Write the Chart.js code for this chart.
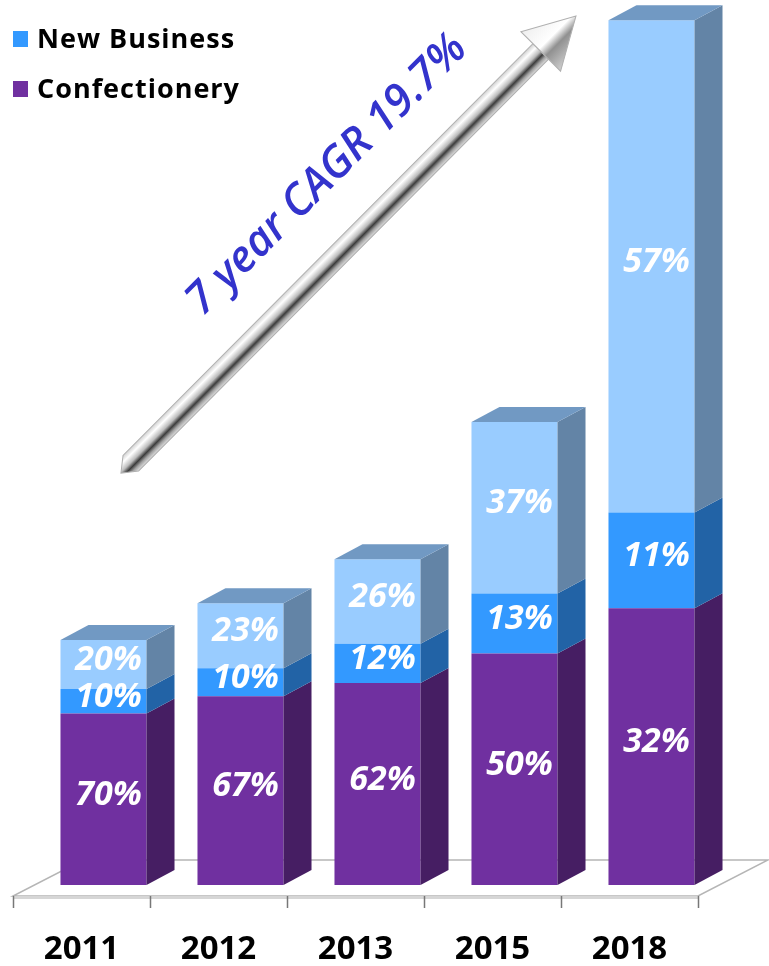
<!DOCTYPE html>
<html lang="en">
<head>
<meta charset="UTF-8">
<title>Sales growth 2011-2018</title>
<script src="https://cdn.jsdelivr.net/npm/chart.js@4.4.1/dist/chart.umd.min.js"></script>
<style>
    body{ margin:0; background:#fff; }
    #wrap{ width:769px; height:966px; }
</style>
</head>
<body>
<div id="wrap"><canvas id="growth" width="769" height="966"></canvas></div>
<script>
// chart data (index, 2011 total = 100)
var years = ['2011', '2012', '2013', '2015', '2018'];
var confectionery = [70, 77, 82.5, 94.5, 113];
var newBusiness = [10, 11.5, 16, 24.5, 39];
var otherBusiness = [20, 26.5, 34.5, 70, 201];
var confLabels = ['70%', '67%', '62%', '50%', '32%'];
var newLabels = ['10%', '10%', '12%', '13%', '11%'];
var otherLabels = ['20%', '23%', '26%', '37%', '57%'];
var legendNames = ['Other Business', 'New Business', 'Confectionery'];
var cagrText = '7 year CAGR 19.7%';

var fronts = ['#7030A0', '#3399FF', '#99CCFF'];
var sides = ['#461E63', '#2263A6', '#6384A6'];
var topFace = '#7199C3';
var DX = 28, DY = 15;

// 3d sides, top, floor
const box3d = {
    id: 'box3d',
    beforeDatasetsDraw(chart){
        const ctx = chart.ctx, a = chart.chartArea;
        const off = -22;
        const fl = a.left + off, fr = a.right + off, fy = a.bottom + 11;
        ctx.save();
        ctx.beginPath();
        ctx.moveTo(fl, fy);
        ctx.lineTo(fr, fy);
        ctx.lineTo(fr + 70, fy - 36);
        ctx.lineTo(fl + 70, fy - 36);
        ctx.closePath();
        ctx.fillStyle = '#ffffff';
        ctx.fill();
        ctx.strokeStyle = '#b5b5b5';
        ctx.lineWidth = 1.5;
        ctx.stroke();
        ctx.fillStyle = '#d6d6d6';
        ctx.fillRect(fl, fy, fr - fl, 3);
        ctx.strokeStyle = '#777';
        ctx.lineWidth = 1.5;
        for(let i = 0; i <= years.length; i++){
            let tx = Math.round(fl + (fr - fl) * i / years.length) + 0.5;
            ctx.beginPath();
            ctx.moveTo(tx, fy);
            ctx.lineTo(tx, fy + 12);
            ctx.stroke();
        }
        ctx.restore();
    },
    afterDatasetsDraw(chart){
        const ctx = chart.ctx;
        ctx.save();
        chart.data.datasets.forEach((ds, di) => {
            const meta = chart.getDatasetMeta(di);
            meta.data.forEach((bar) => {
                const p = bar.getProps(['x', 'y', 'base', 'width'], true);
                const r = p.x + p.width / 2, l = p.x - p.width / 2;
                ctx.fillStyle = sides[di];
                ctx.beginPath();
                ctx.moveTo(r, p.y);
                ctx.lineTo(r + DX, p.y - DY);
                ctx.lineTo(r + DX, p.base - DY);
                ctx.lineTo(r, p.base);
                ctx.closePath();
                ctx.fill();
                if(di == chart.data.datasets.length - 1){
                    ctx.fillStyle = topFace;
                    ctx.beginPath();
                    ctx.moveTo(l, p.y);
                    ctx.lineTo(l + DX, p.y - DY);
                    ctx.lineTo(r + DX, p.y - DY);
                    ctx.lineTo(r, p.y);
                    ctx.closePath();
                    ctx.fill();
                }
            });
        });
        // value labels
        const lbls = [confLabels, newLabels, otherLabels];
        ctx.fillStyle = '#fff';
        ctx.font = 'italic bold 34px "Open Sans"';
        ctx.textAlign = 'center';
        ctx.textBaseline = 'middle';
        chart.data.datasets.forEach((ds, di) => {
            chart.getDatasetMeta(di).data.forEach((bar, i) => {
                const p = bar.getProps(['x', 'y', 'base'], true);
                ctx.fillText(lbls[di][i], p.x + 5, (p.y + p.base) / 2 - 4);
            });
        });
        ctx.restore();
    },
    afterDraw(chart){
        const ctx = chart.ctx;
        // silver arrow
        const x1 = 128, y1 = 466, x2 = 576, y2 = 16;
        const ang = Math.atan2(y2 - y1, x2 - x1);
        const len = Math.hypot(x2 - x1, y2 - y1);
        const w = 11, hl = 50, hw = 28;
        ctx.save();
        ctx.translate(x1, y1);
        ctx.rotate(ang);
        let g = ctx.createLinearGradient(0, -w, 0, w);
        g.addColorStop(0, '#d0d0d0');
        g.addColorStop(0.22, '#ffffff');
        g.addColorStop(0.48, '#bcbcbc');
        g.addColorStop(0.66, '#3c3c3c');
        g.addColorStop(0.82, '#a0a0a0');
        g.addColorStop(1, '#e0e0e0');
        ctx.fillStyle = g;
        ctx.beginPath();
        ctx.moveTo(-10, 0);
        ctx.lineTo(4, -w);
        ctx.lineTo(len - hl, -w);
        ctx.lineTo(len - hl, w);
        ctx.lineTo(4, w);
        ctx.closePath();
        ctx.fill();
        ctx.strokeStyle = '#b0b0b0';
        ctx.lineWidth = 1;
        ctx.stroke();
        let hg = ctx.createLinearGradient(0, -hw, 0, hw);
        hg.addColorStop(0, '#eeeeee');
        hg.addColorStop(0.45, '#ffffff');
        hg.addColorStop(0.62, '#909090');
        hg.addColorStop(1, '#cfcfcf');
        ctx.fillStyle = hg;
        ctx.beginPath();
        ctx.moveTo(len, 0);
        ctx.lineTo(len - hl, -hw);
        ctx.lineTo(len - hl, hw);
        ctx.closePath();
        ctx.fill();
        ctx.stroke();
        ctx.restore();

        // CAGR text
        ctx.save();
        ctx.translate(327, 175);
        ctx.rotate(-45 * Math.PI / 180);
        ctx.font = 'italic 600 44px "Open Sans"';
        ctx.fillStyle = '#3333CC';
        ctx.textAlign = 'center';
        ctx.textBaseline = 'middle';
        ctx.fillText(cagrText, 0, 0);
        ctx.restore();

        // legend (first item runs off the top edge)
        const cols = [fronts[2], fronts[1], fronts[0]];
        ctx.save();
        ctx.font = 'bold 27px "Open Sans"';
        ctx.letterSpacing = '1px';
        ctx.textBaseline = 'alphabetic';
        ctx.textAlign = 'left';
        legendNames.forEach((name, i) => {
            const base = -2 + i * 50;
            ctx.fillStyle = cols[i];
            ctx.fillRect(13, base - 17, 15, 16);
            ctx.fillStyle = '#000';
            ctx.fillText(name, 37, base);
        });
        ctx.restore();
    }
};

const chart = new Chart(document.getElementById('growth'), {
    type: 'bar',
    data: {
        labels: years,
        datasets: [
            { label: legendNames[2], data: confectionery, backgroundColor: fronts[0] },
            { label: legendNames[1], data: newBusiness, backgroundColor: fronts[1] },
            { label: legendNames[0], data: otherBusiness, backgroundColor: fronts[2] }
        ]
    },
    options: {
        responsive: false,
        animation: false,
        layout: { padding: { left: 35, right: 49, top: 3, bottom: 3 } },
        datasets: { bar: { barPercentage: 0.628, categoryPercentage: 1, borderWidth: 0 } },
        plugins: { legend: { display: false }, tooltip: { enabled: false } },
        scales: {
            x: {
                stacked: true,
                grid: { display: false },
                border: { display: false },
                afterFit: function(scale){ scale.height = 78; },
                ticks: {
                    labelOffset: -22,
                    padding: 40,
                    maxRotation: 0,
                    color: '#000',
                    font: { family: 'Open Sans', weight: 'bold', size: 33, lineHeight: 1 }
                }
            },
            y: {
                stacked: true,
                display: false,
                min: 0,
                max: 360
            }
        }
    },
    plugins: [box3d]
});
</script>
</body>
</html>
